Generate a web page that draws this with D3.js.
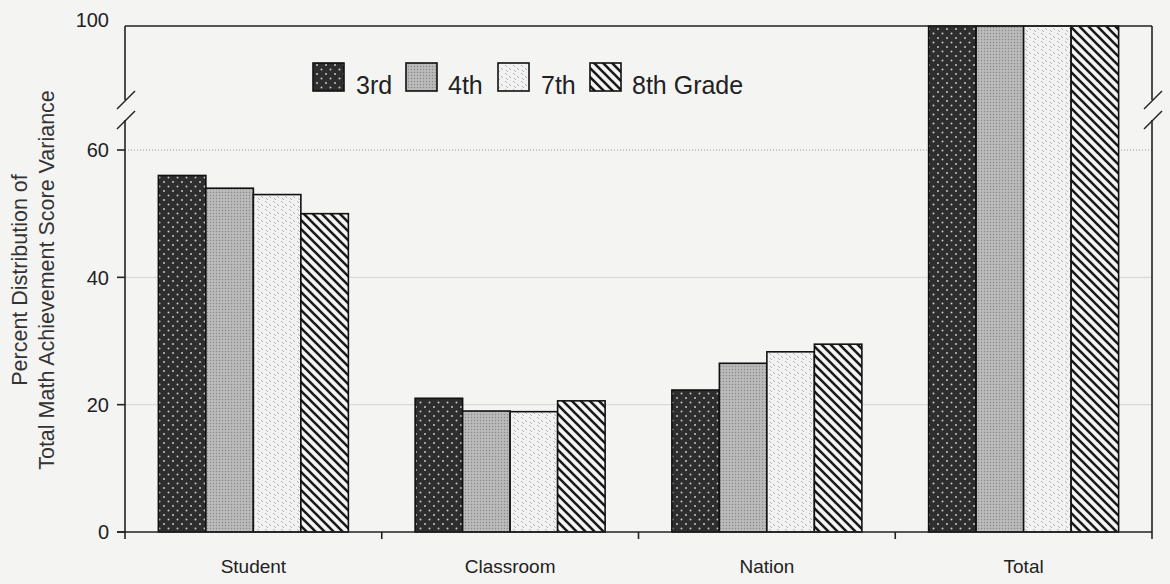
<!DOCTYPE html>
<html><head><meta charset="utf-8">
<script src="https://cdn.jsdelivr.net/npm/d3@7"></script>
<style>body{margin:0;background:#f4f4f3;}svg{display:block;font-family:"Liberation Sans",Arial,sans-serif;}</style>
</head><body><svg id="c" width="1170" height="584"></svg>
<script>
const categories = ["Student", "Classroom", "Nation", "Total"];
const grades = ["3rd", "4th", "7th", "8th Grade"];
const g3 = [56, 21.0, 22.3, 100];
const g4 = [54, 19.0, 26.5, 100];
const g7 = [53, 18.9, 28.3, 100];
const g8 = [50, 20.6, 29.5, 100];
const yTicks = [0, 20, 40, 60, 100];
const series = [g3, g4, g7, g8];

const svg = d3.select("#c");
const L = 125, R = 1152, B = 532;
const x0 = d3.scaleBand().domain(categories).range([L, R]).paddingInner(0).paddingOuter(0);
const x1 = d3.scaleBand().domain(grades).range([0, 190]).padding(0);
const y = d3.scaleLinear().domain([0, 60, 100]).range([B, 150, 26]);

const defs = svg.append("defs");
// 3rd: dark with white dots
let p = defs.append("pattern").attr("id","p0").attr("patternUnits","userSpaceOnUse").attr("width",9).attr("height",9);
p.append("rect").attr("width",9).attr("height",9).attr("fill","#2e2e2e");
p.append("circle").attr("cx",2).attr("cy",2).attr("r",1).attr("fill","#c8c8c8");
p.append("circle").attr("cx",6.5).attr("cy",6.5).attr("r",1).attr("fill","#c8c8c8");
// 4th: mid gray stipple
p = defs.append("pattern").attr("id","p1").attr("patternUnits","userSpaceOnUse").attr("width",3).attr("height",3);
p.append("rect").attr("width",3).attr("height",3).attr("fill","#b4b4b4");
p.append("rect").attr("x",0).attr("y",0).attr("width",1).attr("height",1).attr("fill","#8a8a8a");
p.append("rect").attr("x",1.5).attr("y",1.5).attr("width",1).attr("height",1).attr("fill","#d0d0d0");
// 7th: light with small dashes
p = defs.append("pattern").attr("id","p2").attr("patternUnits","userSpaceOnUse").attr("width",8).attr("height",8);
p.append("rect").attr("width",8).attr("height",8).attr("fill","#f2f2f2");
p.append("path").attr("d","M1,1 L3,3 M5,4 L7,6 M2,6 L4,8").attr("stroke","#aaa").attr("stroke-width",0.9);
// 8th: diagonal stripes "\"
p = defs.append("pattern").attr("id","p3").attr("patternUnits","userSpaceOnUse").attr("width",9).attr("height",9);
p.append("rect").attr("width",9).attr("height",9).attr("fill","#f4f4f4");
p.append("path").attr("d","M-3,6 L3,12 M-3,-3 L12,12 M6,-3 L12,3").attr("stroke","#1a1a1a").attr("stroke-width",2.6);
const fills = ["url(#p0)","url(#p1)","url(#p2)","url(#p3)"];

// gridlines
[20,40].forEach(v => svg.append("line").attr("x1",L).attr("x2",R).attr("y1",y(v)).attr("y2",y(v)).attr("stroke","#d2d2d2").attr("stroke-width",1));
svg.append("line").attr("x1",L).attr("x2",R).attr("y1",y(60)).attr("y2",y(60)).attr("stroke","#999").attr("stroke-width",1).attr("stroke-dasharray","1,2");

// bars
categories.forEach((c, ci) => {
  grades.forEach((gname, gi) => {
    const v = series[gi][ci];
    svg.append("rect")
      .attr("x", x0(c) + (x0.bandwidth()-190)/2 + x1(gname))
      .attr("y", y(v))
      .attr("width", x1.bandwidth())
      .attr("height", B - y(v))
      .attr("fill", fills[gi]).attr("stroke","#111").attr("stroke-width",1.6);
  });
});

// frame: top border, left & right axes with breaks
const brkTop = y(60) - 50, brkBot = y(60) - 30;
svg.append("line").attr("x1",L).attr("x2",R).attr("y1",y(100)).attr("y2",y(100)).attr("stroke","#222").attr("stroke-width",1.6);
[L, R].forEach(xx => {
  svg.append("line").attr("x1",xx).attr("x2",xx).attr("y1",y(100)).attr("y2",brkTop).attr("stroke","#222").attr("stroke-width",1.6);
  svg.append("line").attr("x1",xx).attr("x2",xx).attr("y1",brkBot).attr("y2",B).attr("stroke","#222").attr("stroke-width",1.6);
  [brkTop, brkBot].forEach(yy => svg.append("line").attr("x1",xx-8).attr("x2",xx+10).attr("y1",yy+9).attr("y2",yy-9).attr("stroke","#222").attr("stroke-width",1.4));
});

// y axis ticks & labels
const yAxis = svg.append("g");
yTicks.forEach(t => {
  if (t !== 100) yAxis.append("line").attr("x1",L-8).attr("x2",L).attr("y1",y(t)).attr("y2",y(t)).attr("stroke","#222").attr("stroke-width",1.6);
  yAxis.append("text").attr("x",L-16).attr("y",y(t)).attr("dy", t===100 ? "0.05em" : "0.36em").attr("text-anchor","end").attr("font-size",20).attr("fill","#222").text(t);
});

// x axis
svg.append("line").attr("x1",L-8).attr("x2",R).attr("y1",B).attr("y2",B).attr("stroke","#222").attr("stroke-width",1.6);
categories.concat(["_end"]).forEach((c,i) => {
  const xx = i < categories.length ? x0(c) : R;
  svg.append("line").attr("x1",xx).attr("x2",xx).attr("y1",B).attr("y2",B+7).attr("stroke","#222").attr("stroke-width",1.6);
});
categories.forEach(c => svg.append("text").attr("x", x0(c)+x0.bandwidth()/2).attr("y",573).attr("text-anchor","middle").attr("font-size",19).attr("fill","#222").text(c));

// y title
const yt = svg.append("text").attr("transform","translate(27,280) rotate(-90)").attr("text-anchor","middle").attr("font-size",21.5).attr("fill","#333");
yt.append("tspan").attr("x",0).attr("dy",0).text("Percent Distribution of");
yt.append("tspan").attr("x",0).attr("dy",27).text("Total Math Achievement Score Variance");

// legend
const legX = [313, 406, 498, 590];
const legT = [356, 448, 541, 632];
grades.forEach((gname, gi) => {
  svg.append("rect").attr("x",legX[gi]).attr("y",63).attr("width",31).attr("height",28).attr("fill",fills[gi]).attr("stroke","#111").attr("stroke-width",1.6);
  svg.append("text").attr("x",legT[gi]).attr("y",94).attr("font-size",25).attr("fill","#222").text(gname);
});
</script></body></html>
